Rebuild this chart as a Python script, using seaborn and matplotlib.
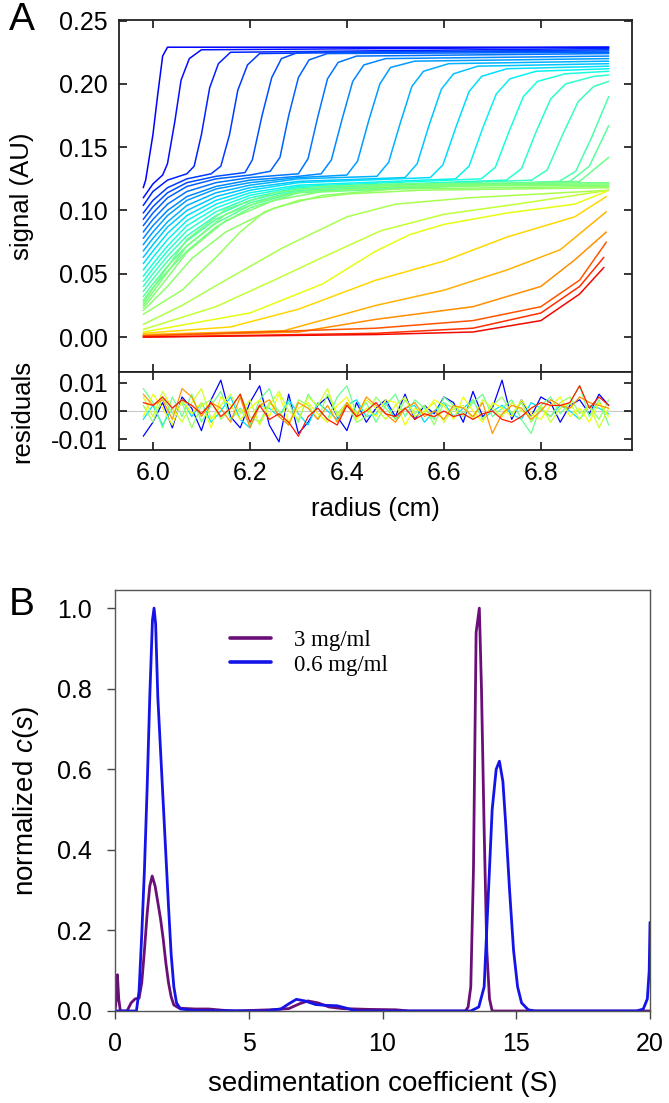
import numpy as np
import pandas as pd
import matplotlib
matplotlib.use('Agg')
import matplotlib.pyplot as plt
from matplotlib.ticker import FormatStrFormatter
from matplotlib.lines import Line2D
import seaborn as sns

# ---------------- panel A: fitted scans, (radius cm, signal AU) ----------------
# scans while the fast (~14 S) boundary crosses the cell
fast_scans = [
    [(5.98, 0.118), (5.985, 0.124), (6.00, 0.160), (6.01, 0.192), (6.02, 0.222), (6.03, 0.229), (6.94, 0.229)],
    [(5.98, 0.110), (6.00, 0.121), (6.02, 0.128), (6.03, 0.137), (6.045, 0.170), (6.058, 0.203), (6.075, 0.220), (6.10, 0.227), (6.94, 0.229)],
    [(5.98, 0.104), (6.00, 0.115), (6.03, 0.124), (6.07, 0.129), (6.085, 0.135), (6.10, 0.160), (6.117, 0.197), (6.135, 0.216), (6.16, 0.225), (6.94, 0.228)],
    [(5.98, 0.098), (6.00, 0.108), (6.03, 0.118), (6.07, 0.125), (6.12, 0.129), (6.14, 0.135), (6.158, 0.160), (6.175, 0.195), (6.195, 0.215), (6.22, 0.224), (6.94, 0.227)],
    [(5.98, 0.093), (6.00, 0.103), (6.03, 0.114), (6.07, 0.122), (6.13, 0.127), (6.19, 0.130), (6.205, 0.140), (6.225, 0.175), (6.245, 0.205), (6.265, 0.220), (6.30, 0.225), (6.94, 0.226)],
    [(5.98, 0.088), (6.00, 0.098), (6.03, 0.110), (6.07, 0.119), (6.13, 0.125), (6.20, 0.128), (6.242, 0.131), (6.262, 0.142), (6.28, 0.175), (6.30, 0.205), (6.322, 0.219), (6.36, 0.224), (6.94, 0.225)],
    [(5.98, 0.083), (6.00, 0.093), (6.03, 0.105), (6.07, 0.115), (6.13, 0.122), (6.20, 0.126), (6.30, 0.129), (6.32, 0.141), (6.34, 0.174), (6.36, 0.204), (6.382, 0.217), (6.42, 0.222), (6.94, 0.224)],
    [(5.98, 0.078), (6.00, 0.088), (6.03, 0.100), (6.07, 0.111), (6.13, 0.119), (6.20, 0.124), (6.30, 0.127), (6.347, 0.129), (6.368, 0.140), (6.39, 0.172), (6.412, 0.202), (6.435, 0.215), (6.48, 0.220), (6.94, 0.222)],
    [(5.98, 0.073), (6.00, 0.083), (6.03, 0.096), (6.07, 0.108), (6.13, 0.117), (6.20, 0.122), (6.30, 0.126), (6.40, 0.128), (6.422, 0.139), (6.445, 0.171), (6.468, 0.200), (6.49, 0.213), (6.54, 0.218), (6.94, 0.220)],
    [(5.98, 0.068), (6.00, 0.078), (6.03, 0.091), (6.07, 0.104), (6.13, 0.114), (6.20, 0.120), (6.30, 0.125), (6.462, 0.127), (6.486, 0.138), (6.51, 0.169), (6.534, 0.198), (6.558, 0.210), (6.61, 0.216), (6.94, 0.218)],
    [(5.98, 0.063), (6.00, 0.073), (6.03, 0.087), (6.07, 0.100), (6.13, 0.111), (6.20, 0.118), (6.30, 0.123), (6.52, 0.126), (6.545, 0.137), (6.57, 0.168), (6.595, 0.196), (6.62, 0.208), (6.67, 0.214), (6.94, 0.216)],
    [(5.98, 0.058), (6.00, 0.068), (6.03, 0.082), (6.07, 0.096), (6.13, 0.108), (6.20, 0.116), (6.30, 0.122), (6.572, 0.126), (6.598, 0.136), (6.625, 0.166), (6.652, 0.194), (6.678, 0.206), (6.73, 0.212), (6.94, 0.214)],
    [(5.98, 0.053), (6.00, 0.063), (6.03, 0.077), (6.07, 0.092), (6.13, 0.105), (6.20, 0.114), (6.30, 0.120), (6.624, 0.125), (6.652, 0.135), (6.68, 0.165), (6.708, 0.192), (6.736, 0.204), (6.79, 0.210), (6.94, 0.212)],
    [(5.98, 0.048), (6.00, 0.058), (6.03, 0.072), (6.07, 0.088), (6.13, 0.102), (6.20, 0.112), (6.30, 0.119), (6.677, 0.125), (6.706, 0.134), (6.735, 0.163), (6.764, 0.190), (6.793, 0.202), (6.85, 0.208), (6.94, 0.210)],
    [(5.98, 0.044), (6.00, 0.054), (6.03, 0.068), (6.07, 0.084), (6.13, 0.099), (6.20, 0.110), (6.30, 0.118), (6.729, 0.124), (6.76, 0.133), (6.79, 0.162), (6.82, 0.188), (6.851, 0.200), (6.91, 0.206), (6.94, 0.207)],
    [(5.98, 0.040), (6.00, 0.050), (6.03, 0.064), (6.07, 0.080), (6.13, 0.096), (6.20, 0.108), (6.30, 0.117), (6.781, 0.124), (6.813, 0.132), (6.845, 0.160), (6.877, 0.186), (6.909, 0.198), (6.94, 0.202)],
    [(5.98, 0.036), (6.00, 0.046), (6.03, 0.060), (6.07, 0.076), (6.13, 0.093), (6.20, 0.106), (6.30, 0.116), (6.838, 0.123), (6.872, 0.131), (6.905, 0.158), (6.94, 0.190)],
    [(5.98, 0.032), (6.00, 0.042), (6.03, 0.056), (6.07, 0.072), (6.13, 0.090), (6.20, 0.104), (6.30, 0.115), (6.86, 0.123), (6.90, 0.135), (6.94, 0.167)],
    [(5.98, 0.029), (6.00, 0.039), (6.03, 0.052), (6.07, 0.068), (6.13, 0.087), (6.20, 0.102), (6.30, 0.114), (6.88, 0.123), (6.94, 0.142)],
]

# scans with only the slow (~1.5 S) boundary left
slow_scans = [
    [(5.98, 0.027), (6.02, 0.050), (6.07, 0.077), (6.15, 0.101), (6.25, 0.114), (6.35, 0.119), (6.50, 0.121), (6.94, 0.122)],
    [(5.98, 0.025), (6.02, 0.046), (6.07, 0.072), (6.15, 0.097), (6.25, 0.111), (6.35, 0.117), (6.50, 0.120), (6.94, 0.121)],
    [(5.98, 0.023), (6.02, 0.042), (6.07, 0.067), (6.15, 0.092), (6.25, 0.108), (6.35, 0.115), (6.50, 0.119), (6.94, 0.120)],
    [(5.98, 0.021), (6.03, 0.040), (6.08, 0.062), (6.15, 0.083), (6.25, 0.102), (6.35, 0.112), (6.50, 0.117), (6.94, 0.119)],
]

# late scans, slow boundary moving out to the cell bottom
late_scans = [
    [(5.98, 0.018), (6.06, 0.037), (6.13, 0.063), (6.18, 0.083), (6.23, 0.099), (6.30, 0.108), (6.40, 0.113), (6.55, 0.116), (6.94, 0.118)],
    [(5.98, 0.010), (6.06, 0.025), (6.15, 0.045), (6.27, 0.071), (6.40, 0.095), (6.50, 0.105), (6.65, 0.110), (6.94, 0.116)],
    [(5.98, 0.006), (6.13, 0.024), (6.25, 0.045), (6.35, 0.063), (6.47, 0.084), (6.60, 0.097), (6.75, 0.105), (6.94, 0.116)],
    [(5.98, 0.004), (6.20, 0.019), (6.35, 0.042), (6.46, 0.068), (6.53, 0.081), (6.60, 0.089), (6.73, 0.098), (6.87, 0.105), (6.935, 0.115)],
    [(5.98, 0.003), (6.16, 0.008), (6.30, 0.022), (6.46, 0.045), (6.60, 0.060), (6.73, 0.079), (6.87, 0.095), (6.935, 0.111)],
    [(5.98, 0.002), (6.27, 0.005), (6.46, 0.025), (6.60, 0.037), (6.73, 0.053), (6.84, 0.069), (6.935, 0.099)],
    [(5.98, 0.001), (6.30, 0.004), (6.46, 0.014), (6.66, 0.024), (6.80, 0.040), (6.87, 0.061), (6.935, 0.083)],
    [(5.98, 0.001), (6.46, 0.007), (6.66, 0.013), (6.80, 0.024), (6.88, 0.045), (6.935, 0.075)],
    [(5.98, 0.000), (6.46, 0.003), (6.66, 0.007), (6.80, 0.019), (6.88, 0.040), (6.93, 0.063)],
    [(5.98, 0.000), (6.46, 0.002), (6.66, 0.004), (6.80, 0.013), (6.88, 0.034), (6.93, 0.055)],
]

# residual traces (units of 1e-3 AU) on a 0.02 cm radius grid
resid_r = [5.98, 6.00, 6.02, 6.04, 6.06, 6.08, 6.10, 6.12, 6.14, 6.16, 6.18, 6.20, 6.22, 6.24, 6.26, 6.28,
           6.30, 6.32, 6.34, 6.36, 6.38, 6.40, 6.42, 6.44, 6.46, 6.48, 6.50, 6.52, 6.54, 6.56, 6.58, 6.60,
           6.62, 6.64, 6.66, 6.68, 6.70, 6.72, 6.74, 6.76, 6.78, 6.80, 6.82, 6.84, 6.86, 6.88, 6.90, 6.92, 6.94]
resid_blue = [-9, -4, 3, -6, 5, 1, -7, 4, 11, -2, -6, 3, 9, -5, -11, 6, -8, -4, 2, 5, -2, -7, 3, -4, 1,
              4, -2, 6, -3, 2, -1, 5, 3, -4, 7, -2, 1, 11, -3, 4, -2, 5, 3, -4, 2, 4, -1, 6, 2]
resid_cyan = [-3, 2, -5, 1, 4, -2, 3, -4, 0, 5, -3, -6, 2, 1, -2, 4, -1, -5, 3, 0, -3, 2, 4, -2, -1,
              3, -3, 1, 2, -4, 0, 3, -2, 1, 4, -3, 0, 2, -1, -3, 3, 1, -2, 2, 0, -3, 2, 1, -1]
resid_green = [8, 3, -6, 5, -2, 6, -4, 2, 7, -3, 1, -5, 4, 8, -2, 3, -4, 6, 1, -3, 5, 9, -1, 3, -4,
               2, 6, -2, 4, 1, -3, 5, 2, -1, 3, 6, -2, 1, 4, -3, -8, 2, 5, -1, 3, 9, -2, 4, -5]
resid_green2 = [2, -4, 5, -1, 3, -6, 2, 4, -3, 1, 6, -2, -4, 3, 0, -5, 4, 2, -3, 6, -1, 3, -4, -2, 5,
                1, -3, 4, -1, 2, -5, 3, 1, -2, 4, -3, 2, 5, -1, 3, -4, 1, -2, 3, 5, -1, 2, -3, 4]
resid_yellow = [5, -2, 7, 1, -4, 3, 8, -3, 2, 6, -1, 4, -5, 2, 7, 0, -3, 5, 2, 8, -2, 3, -1, 4, 1,
                -3, 2, 5, -2, 0, 3, -4, 1, 2, -3, 4, 1, -2, 3, 0, -2, 2, -4, 1, 3, -3, 2, -6, 1]
resid_yellow2 = [-2, 6, 1, -5, 4, -1, 3, -6, 5, 2, -3, 1, 4, -2, 6, -4, 1, 3, -1, -4, 2, 5, -3, 1, -2,
                 4, 3, -5, 1, -1, 4, 2, -3, 5, 0, -4, 3, 1, -2, 4, -1, -3, 2, 5, -2, 1, -4, 3, -2]
resid_orange = [6, 2, 4, -3, 8, 5, -2, 3, 1, -4, 5, -6, 2, 4, -2, -5, 3, 1, -3, 2, -4, 3, -2, 5, 2,
                -1, -4, 1, 3, -2, 0, -3, 2, 1, -2, 3, -8, -1, 2, 1, -3, 0, 4, 2, 1, 5, 3, 2, 1]
resid_red = [3, 2, 5, 1, 4, 2, -1, 3, -2, 1, 6, -4, 2, -3, -1, -4, -9, -2, 1, -3, -5, 2, -2, 0, 3,
             -1, -2, 1, -3, -1, -2, 0, -2, -1, -3, -1, 0, -3, -4, -2, 1, 3, 2, 2, 3, 9, 1, 5, 2]

# ---------------- panel B: c(s) distributions ----------------
s_3mg = [0.0, 0.05, 0.09, 0.14, 0.20, 0.45, 0.60, 0.75, 0.90, 1.00, 1.10, 1.20, 1.30, 1.39, 1.50, 1.60,
         1.70, 1.80, 1.90, 2.00, 2.10, 2.20, 2.40, 3.0, 3.5, 4.0, 4.5, 5.8, 6.5, 6.9, 7.21, 7.6, 8.0,
         8.5, 9.5, 10.5, 11.0, 13.10, 13.20, 13.30, 13.40, 13.50, 13.62, 13.70, 13.80, 13.90, 14.00,
         14.10, 20.0]
c_3mg = [0.0, 0.03, 0.09, 0.03, 0.0, 0.0, 0.02, 0.03, 0.032, 0.07, 0.15, 0.24, 0.31, 0.335, 0.31, 0.27,
         0.23, 0.18, 0.12, 0.07, 0.035, 0.015, 0.007, 0.005, 0.005, 0.002, 0.0, 0.003, 0.006, 0.018,
         0.025, 0.02, 0.01, 0.006, 0.004, 0.003, 0.0, 0.0, 0.01, 0.06, 0.35, 0.94, 1.0, 0.8, 0.45,
         0.15, 0.03, 0.0, 0.0]
s_06mg = [0.0, 0.80, 0.90, 1.00, 1.10, 1.20, 1.30, 1.40, 1.46, 1.52, 1.60, 1.70, 1.80, 1.90, 2.00,
          2.05, 2.10, 2.20, 2.30, 2.45, 3.0, 5.6, 6.2, 6.5, 6.78, 7.1, 7.5, 7.9, 8.3, 8.6, 8.9, 9.2,
          13.3, 13.6, 13.8, 13.95, 14.1, 14.25, 14.37, 14.5, 14.6, 14.75, 14.9, 15.05, 15.2, 15.45,
          15.7, 19.5, 19.75, 19.9, 19.97, 20.0]
c_06mg = [0.0, 0.0, 0.05, 0.19, 0.35, 0.55, 0.78, 0.97, 1.0, 0.96, 0.78, 0.65, 0.52, 0.39, 0.26,
          0.20, 0.14, 0.06, 0.02, 0.005, 0.001, 0.0, 0.005, 0.018, 0.029, 0.025, 0.016, 0.014, 0.013,
          0.008, 0.002, 0.0, 0.0, 0.01, 0.06, 0.28, 0.50, 0.60, 0.62, 0.57, 0.47, 0.30, 0.15, 0.06,
          0.02, 0.003, 0.0, 0.0, 0.005, 0.03, 0.10, 0.22]
samples = ['3 mg/ml', '0.6 mg/ml']

# ---------------- build frames ----------------
scans = fast_scans + slow_scans + late_scans
rows = []
for i, pts in enumerate(scans):
    for r, y in pts:
        rows.append((f'scan{i:02d}', r, y))
scan_df = pd.DataFrame(rows, columns=['scan', 'radius', 'signal'])

# colour position of each scan on the jet map (blue early -> red late)
jet = plt.get_cmap('jet')
cpos = (list(np.linspace(0.12, 0.48, len(fast_scans)))
        + [0.49, 0.50, 0.51, 0.52]
        + [0.535, 0.555, 0.585, 0.63, 0.68, 0.72, 0.76, 0.82, 0.86, 0.90])
scan_pal = {f'scan{i:02d}': jet(p) for i, p in enumerate(cpos)}

resid_traces = {'blue': resid_blue, 'cyan': resid_cyan, 'green': resid_green, 'green2': resid_green2,
                'yellow': resid_yellow, 'yellow2': resid_yellow2, 'orange': resid_orange, 'red': resid_red}
resid_pos = {'blue': 0.12, 'cyan': 0.34, 'green': 0.48, 'green2': 0.53, 'yellow': 0.6,
             'yellow2': 0.64, 'orange': 0.75, 'red': 0.88}
res_df = pd.concat([pd.DataFrame({'radius': resid_r, 'resid': np.array(v) / 1000.0, 'trace': k})
                    for k, v in resid_traces.items()])
res_pal = {k: jet(p) for k, p in resid_pos.items()}

cs_df = pd.concat([pd.DataFrame({'s': s_3mg, 'c': c_3mg, 'sample': samples[0]}),
                   pd.DataFrame({'s': s_06mg, 'c': c_06mg, 'sample': samples[1]})])
cs_pal = {samples[0]: '#6b0f78', samples[1]: '#1414e8'}

# ---------------- style ----------------
sns.set_style('ticks')
plt.rcParams['font.family'] = ['Liberation Sans', 'DejaVu Sans']
plt.rcParams['mathtext.fontset'] = 'custom'
plt.rcParams['mathtext.rm'] = 'Liberation Sans'
plt.rcParams['mathtext.it'] = 'Liberation Sans:italic'
for key in ('text.color', 'axes.labelcolor', 'xtick.labelcolor', 'ytick.labelcolor'):
    plt.rcParams[key] = 'black'

W, H = 669, 1103
fig = plt.figure(figsize=(W / 100, H / 100), dpi=100)
axA = fig.add_axes([119 / W, 1 - 372 / H, 513 / W, 352 / H])
axR = fig.add_axes([119 / W, 1 - 450 / H, 513 / W, 78 / H])
axB = fig.add_axes([115 / W, 1 - 1011 / H, 535 / W, 421 / H])

# panel A
sns.lineplot(data=scan_df, x='radius', y='signal', hue='scan', palette=scan_pal, estimator=None,
             sort=False, legend=False, linewidth=1.1, ax=axA)
axA.set_xlim(5.93, 6.988)
axA.set_ylim(-0.0276, 0.2505)
axA.set_yticks([0.0, 0.05, 0.10, 0.15, 0.20, 0.25])
axA.set_xticks([6.0, 6.2, 6.4, 6.6, 6.8])
axA.yaxis.set_major_formatter(FormatStrFormatter('%.2f'))
axA.tick_params(direction='in', length=6, width=1.1, top=True, right=True, color='black',
                labelbottom=False, labelsize=18, pad=8)
axA.set_xlabel('')
axA.set_ylabel('signal (AU)', fontsize=18.5)
axA.yaxis.set_label_coords(-0.165, 0.5)

axR.axhline(0, color='#c8c8c8', lw=0.8, zorder=0)
sns.lineplot(data=res_df, x='radius', y='resid', hue='trace', palette=res_pal, estimator=None,
             sort=False, legend=False, linewidth=0.9, ax=axR)
axR.set_xlim(5.93, 6.988)
axR.set_ylim(-0.0139, 0.0139)
axR.set_yticks([-0.01, 0.0, 0.01])
axR.set_xticks([6.0, 6.2, 6.4, 6.6, 6.8])
axR.yaxis.set_major_formatter(FormatStrFormatter('%.2f'))
axR.xaxis.set_major_formatter(FormatStrFormatter('%.1f'))
axR.tick_params(direction='in', length=6, width=1.1, top=True, right=True, color='black',
                labelsize=18, pad=8)
axR.set_ylabel('residuals', fontsize=18.5)
axR.yaxis.set_label_coords(-0.165, 0.5)
axR.set_xlabel('radius (cm)', fontsize=18.5)
axR.xaxis.set_label_coords(0.5, -0.6)

for ax in (axA, axR):
    for sp in ax.spines.values():
        sp.set_linewidth(1.3)
        sp.set_color('#222222')

# panel B
sns.lineplot(data=cs_df, x='s', y='c', hue='sample', palette=cs_pal, hue_order=samples,
             estimator=None, sort=False, legend=False, linewidth=2.0, ax=axB)
axB.set_xlim(0, 20)
axB.set_ylim(0, 1.045)
axB.set_xticks([0, 5, 10, 15, 20])
axB.set_yticks([0.0, 0.2, 0.4, 0.6, 0.8, 1.0])
axB.yaxis.set_major_formatter(FormatStrFormatter('%.1f'))
axB.tick_params(direction='out', length=6, width=1.0, labelsize=18, color='#444444')
axB.tick_params(axis='y', pad=10.5)
axB.tick_params(axis='x', pad=9)
for sp in axB.spines.values():
    sp.set_linewidth(1.0)
    sp.set_color('#555555')
axB.set_xlabel('sedimentation coefficient (S)', fontsize=20)
axB.xaxis.set_label_coords(0.5, -0.142)
axB.set_ylabel(r'normalized $c(s)$', fontsize=20)
axB.yaxis.set_label_coords(-0.138, 0.5)

handles = [Line2D([], [], color=cs_pal[s], lw=2.6) for s in samples]
axB.legend(handles, samples, loc='upper left', bbox_to_anchor=(0.215, 0.905), frameon=False,
           prop={'family': 'Liberation Serif', 'size': 16.5}, handlelength=1.8, handletextpad=1.0,
           labelspacing=0.15, borderaxespad=0, borderpad=0)

fig.text(22 / W, 1 - 20 / H, 'A', fontsize=28, ha='center', va='center')
fig.text(22 / W, 1 - 605 / H, 'B', fontsize=28, ha='center', va='center')

fig.savefig('out.png', dpi=100)
